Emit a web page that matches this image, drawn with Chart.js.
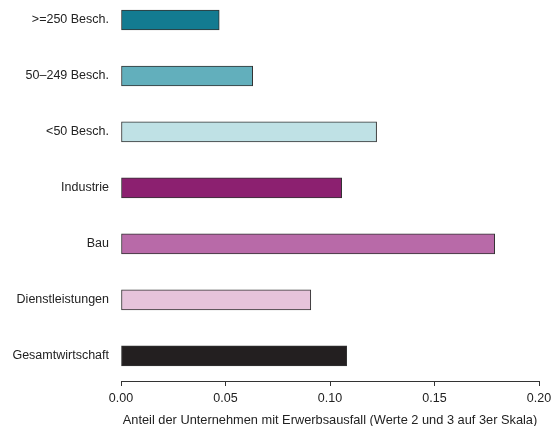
<!DOCTYPE html>
<html>
<head>
<meta charset="utf-8">
<script src="https://cdn.jsdelivr.net/npm/chart.js@4/dist/chart.umd.min.js"></script>
<style>
    html, body { margin: 0; padding: 0; background: #fff; }
    #wrap { width: 552px; height: 426px; }
</style>
</head>
<body>
<div id="wrap"><canvas id="chart"></canvas></div>
<script>
    'use strict';

    var categories = ['>=250 Besch.', '50\u2013249 Besch.', '<50 Besch.', 'Industrie', 'Bau', 'Dienstleistungen', 'Gesamtwirtschaft'];
    var shares = [0.047, 0.063, 0.1223, 0.1056, 0.1788, 0.0908, 0.108];
    var barColors = ['#137b91', '#62afbc', '#bfe1e5', '#8c2070', '#b86aa8', '#e6c3db', '#231f20'];
    var xTicks = [0, 0.05, 0.10, 0.15, 0.20];
    var xTitle = 'Anteil der Unternehmen mit Erwerbsausfall (Werte 2 und 3 auf 3er Skala)';

    Chart.defaults.font.family = '"Liberation Sans", Arial, Helvetica, sans-serif';
    Chart.defaults.color = '#222';

    // bars sit on a linear index axis so the rows can be placed like the R plot
    var points = shares.map(function (v, i) {
        return { 'x': v, 'y': i };
    });

    new Chart(document.getElementById('chart'), {
        'type': 'bar',
        'data': {
            'datasets': [{
                'data': points,
                'backgroundColor': barColors,
                'borderColor': '#333',
                'borderWidth': 1,
                'borderSkipped': false,
                'barThickness': 20,
                'clip': false
            }]
        },
        'options': {
            'indexAxis': 'y',
            'responsive': true,
            'maintainAspectRatio': false,
            'animation': false,
            'layout': { 'padding': { 'top': 6, 'right': 13, 'bottom': 0, 'left': 0 } },
            'plugins': {
                'legend': { 'display': false },
                'tooltip': { 'enabled': false }
            },
            'scales': {
                'y': {
                    'type': 'linear',
                    'reverse': true,
                    'offset': false,
                    'min': -0.25,
                    'max': 6.45,
                    'grid': { 'display': false, 'drawTicks': false },
                    'border': { 'display': false },
                    'ticks': {
                        'padding': 12,
                        'font': { 'size': 12.5 },
                        'color': '#222',
                        'callback': function (v) {
                            return categories[v];
                        }
                    },
                    'afterBuildTicks': function (scale) {
                        scale.ticks = categories.map(function (c, i) {
                            return { 'value': i };
                        });
                    },
                    'afterFit': function (scale) {
                        scale.width = 121;
                        scale.paddingTop = 0;
                        scale.paddingBottom = 0;
                    }
                },
                'x': {
                    'type': 'linear',
                    'min': 0,
                    'max': 0.2,
                    'grid': {
                        'drawOnChartArea': false,
                        'drawTicks': true,
                        'tickLength': 5,
                        'color': '#333'
                    },
                    'border': { 'display': true, 'color': '#333', 'width': 1 },
                    'ticks': {
                        'padding': 5,
                        'font': { 'size': 12.5 },
                        'color': '#222',
                        'maxRotation': 0,
                        'callback': function (v) {
                            return v.toFixed(2);
                        }
                    },
                    'afterBuildTicks': function (scale) {
                        scale.ticks = xTicks.map(function (v) {
                            return { 'value': v };
                        });
                    },
                    'title': {
                        'display': true,
                        'text': xTitle,
                        'font': { 'size': 12.8, 'lineHeight': 0.8 },
                        'color': '#222',
                        'padding': { 'top': 4, 'bottom': 0 }
                    },
                    'afterFit': function (scale) {
                        scale.height = 45;
                        scale.paddingLeft = 0;
                        scale.paddingRight = 0;
                    }
                }
            }
        }
    });
</script>
</body>
</html>
